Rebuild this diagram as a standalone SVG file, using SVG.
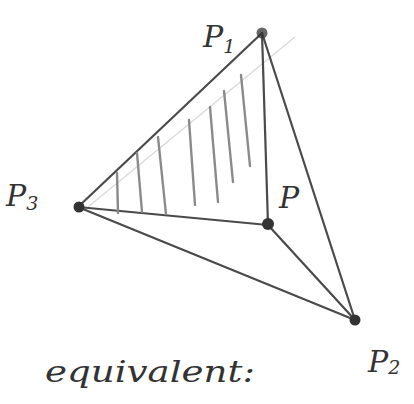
<svg xmlns="http://www.w3.org/2000/svg" width="414" height="404" viewBox="0 0 414 404">
<style>
.edge{stroke:#4a4a4a;stroke-width:2.2;fill:none;stroke-linecap:round}
.hatch{stroke:#8a8a8a;stroke-width:2.4;fill:none;stroke-linecap:round}
.faint{stroke:#d8d8d8;stroke-width:1.2;fill:none}
.pt{fill:#333}
.lbl{font-family:"DejaVu Serif","Liberation Serif",serif;font-style:italic;fill:#333;font-size:30px}
.sub{font-size:19px}
</style>
<rect width="414" height="404" fill="#ffffff"/>
<g id="connectors">
<line class="faint" x1="88" y1="207" x2="295" y2="37"/>
<line class="edge" x1="78" y1="207" x2="262" y2="33"/>
<line class="edge" x1="262" y1="33" x2="355" y2="320"/>
<line class="edge" x1="262" y1="33" x2="268" y2="225"/>
<line class="edge" x1="78" y1="207" x2="268" y2="225"/>
<line class="edge" x1="78" y1="207" x2="355" y2="320"/>
<line class="edge" x1="268" y1="225" x2="355" y2="320"/>
</g>
<g id="hatching">
<line class="hatch" x1="117" y1="173" x2="118" y2="213"/>
<line class="hatch" x1="137" y1="153" x2="142" y2="212"/>
<line class="hatch" x1="158" y1="137" x2="166" y2="214"/>
<line class="hatch" x1="189" y1="120" x2="195" y2="205"/>
<line class="hatch" x1="210" y1="107" x2="218" y2="202"/>
<line class="hatch" x1="224" y1="91" x2="233" y2="182"/>
<line class="hatch" x1="241" y1="75" x2="250" y2="166"/>
</g>
<g id="P1"><circle class="pt" cx="262" cy="33" r="5.5" fill-opacity="0.75"/><text class="lbl" x="203" y="47">P<tspan class="sub" dy="6">1</tspan></text></g>
<g id="P3"><circle class="pt" cx="79" cy="207" r="5.5"/><text class="lbl" x="6" y="206">P<tspan class="sub" dy="4">3</tspan></text></g>
<g id="P"><circle class="pt" cx="268" cy="224" r="6"/><text class="lbl" x="279" y="208">P</text></g>
<g id="P2"><circle class="pt" cx="355" cy="320" r="5.5"/><text class="lbl" x="368" y="372">P<tspan class="sub" dy="2">2</tspan></text></g>
<g id="caption"><text class="lbl" x="45" y="382" font-size="36" textLength="210" lengthAdjust="spacingAndGlyphs">equivalent:</text></g>
</svg>
